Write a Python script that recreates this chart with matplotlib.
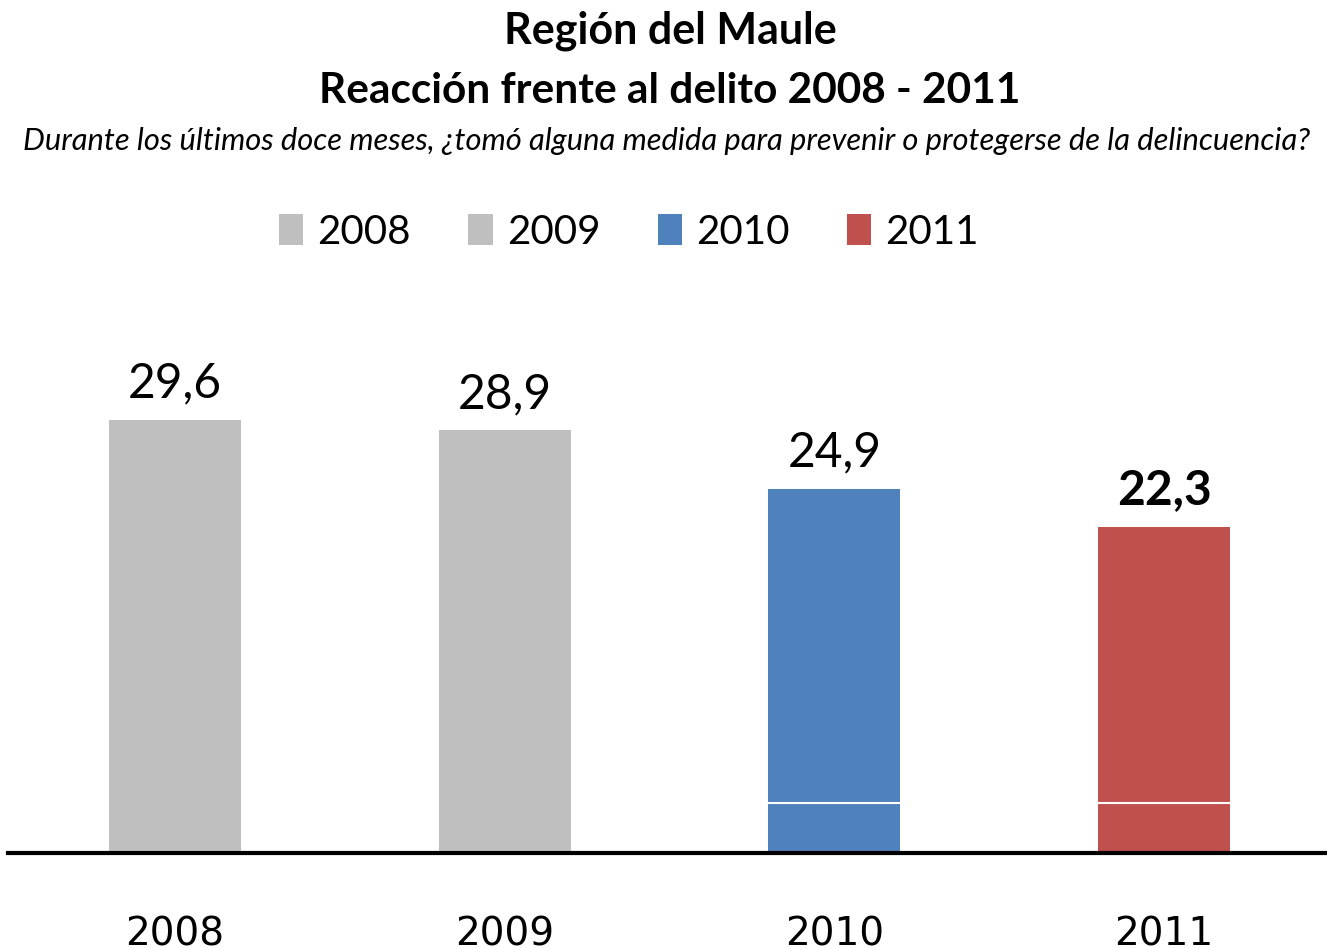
import numpy as np
import matplotlib.pyplot as plt
from matplotlib.patches import Patch

# data
years = ["2008", "2009", "2010", "2011"]
values = [29.6, 28.9, 24.9, 22.3]
labels = ["29,6", "28,9", "24,9", "22,3"]
# thin white split drawn inside the 2010 / 2011 bars
splits = [None, None, 3.4, 3.4]
colors = ["#bfbfbf", "#bfbfbf", "#4f81bd", "#c0504d"]

plt.rcParams['font.family'] = ['Lato', 'DejaVu Sans']

fig = plt.figure(figsize=(13.27, 9.48), dpi=100)
# axes spans baseline (y=853 px) up to y=300 px, x from 8 to 1327 px
ax = fig.add_axes([8 / 1327, 1 - 853 / 948, 1319 / 1327, 553 / 948])

x = np.arange(len(years))
bw = 0.4
ax.bar(x, values, width=bw, color=colors, zorder=2)

# white split lines
for xi, s in zip(x, splits):
    if s is not None:
        ax.hlines(s, xi - bw / 2, xi + bw / 2, color="white", lw=1.5, zorder=3)

# value labels
for i, (xi, v, lab) in enumerate(zip(x, values, labels)):
    ax.annotate(lab, (xi, v), xytext=(0, 16), textcoords="offset points",
                ha="center", va="baseline", fontsize=34.5,
                fontweight="bold" if i == 3 else "normal")

ax.set_xlim(-0.506, 3.494)
ax.set_ylim(0, 37.8)
ax.set_yticks([])
ax.set_xticks(x)
ax.set_xticklabels(years, fontsize=28, family=['Liberation Sans Narrow', 'DejaVu Sans'])
ax.tick_params(axis="x", length=0, pad=45)
for sp in ["top", "right", "left"]:
    ax.spines[sp].set_visible(False)
ax.spines["bottom"].set_linewidth(3)
ax.spines["bottom"].set_zorder(4)

# titles
fig.text(0.505, 1 - 31 / 948, "Región del Maule", ha="center", va="center",
         fontsize=31, fontweight="bold")
fig.text(0.505, 1 - 91 / 948, "Reacción frente al delito 2008 - 2011", ha="center",
         va="center", fontsize=30.5, fontweight="bold")
fig.text(0.502, 1 - 141 / 948,
         "Durante los últimos doce meses, ¿tomó alguna medida para prevenir o protegerse de la delincuencia?",
         ha="center", va="center", fontsize=22.2, style="italic")

# legend
handles = [Patch(facecolor=c, edgecolor="none") for c in colors]
fig.legend(handles, years, loc="center", bbox_to_anchor=(629 / 1327, 1 - 232 / 948),
           ncol=4, frameon=False, fontsize=29, handlelength=0.6, handleheight=0.8,
           handletextpad=0.35, columnspacing=1.43)

fig.savefig("out.png", dpi=100)
